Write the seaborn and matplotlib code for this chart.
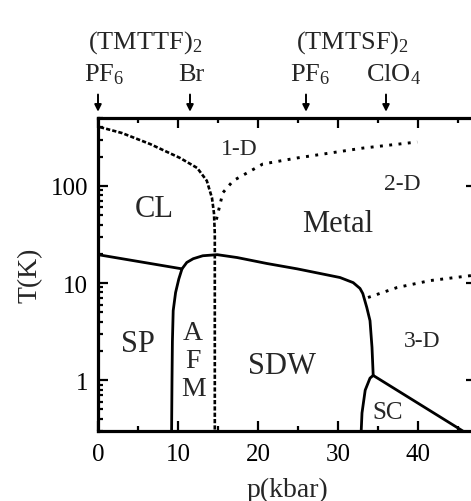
import numpy as np
import pandas as pd
import matplotlib
matplotlib.use("Agg")
import matplotlib.pyplot as plt
import seaborn as sns
from matplotlib.ticker import LogLocator, FixedLocator, NullFormatter

sns.set_style("ticks")
plt.rcParams['font.family'] = ['Liberation Serif', 'DejaVu Serif']
plt.rcParams['mathtext.fontset'] = 'custom'
plt.rcParams['mathtext.rm'] = 'Liberation Serif'
plt.rcParams['mathtext.it'] = 'Liberation Serif:italic'

# ---- data ----
cl_p = [0.25, 3.0, 6.5, 10.25, 12.4, 13.6, 14.25, 14.5, 14.6, 14.6]
cl_T = [403, 350, 270, 194, 153, 113, 75, 52, 32, 0.3]

d1_p = [14.8, 15.6, 16.9, 20.6, 24.9, 29.0, 33.1, 39.9]
d1_T = [45, 85, 113, 168, 194, 218, 245, 283]

sp_p = [0.0, 10.5]
sp_T = [19.6, 14.0]

sdw_p = [9.2, 9.25, 9.3, 9.4, 9.7, 10.1, 10.5, 11.1, 11.9, 13.1, 14.9, 17.4,
         21.1, 24.9, 30.25, 31.9, 32.75, 33.1, 33.6, 34.0, 34.25, 34.4]
sdw_T = [0.3, 1.0, 2.5, 5.2, 8.0, 11.0, 14.0, 16.3, 17.8, 19.1, 19.6, 18.3,
         15.9, 14.0, 11.4, 10.1, 8.8, 7.8, 5.6, 4.1, 2.18, 1.12]

sc_p = [32.9, 33.0, 33.4, 34.0, 34.4, 45.6]
sc_T = [0.3, 0.46, 0.79, 1.05, 1.12, 0.3]

d3_p = [33.75, 37.4, 41.5, 46.5, 48.0]
d3_T = [7.1, 9.0, 10.6, 11.9, 12.3]

regions = ["CL", "1-D", "2-D", "Metal", "SP", "A", "F", "M", "SDW", "3-D", "SC"]
region_p = [7.0, 17.6, 38.1, 30.0, 5.0, 11.9, 11.9, 11.9, 23.0, 40.5, 36.2]
region_T = [59, 245, 107, 41, 2.4, 3.1, 1.6, 0.83, 1.43, 2.57, 0.47]
region_fs = [22, 17, 17, 22, 22, 20, 20, 20, 22, 17, 18]

salt_p = [0.0, 11.5, 26.0, 36.0]
salt_names = [r"PF$_6$", "Br", r"PF$_6$", r"ClO$_4$"]
salt_p_text = [0.7, 11.7, 26.5, 37.0]
family_names = [r"(TMTTF)$_2$", r"(TMTSF)$_2$"]
family_p = [5.9, 31.8]

xticks = [0, 10, 20, 30, 40]
xminor = [5, 15, 25, 35, 45]
yticks = [1, 10, 100]

# ---- figure ----
fig = plt.figure(figsize=(4.71, 5.02), dpi=100)
ax = fig.add_axes([98/471, 70/502, 378/471, 313/502])

solid = dict(color="black", lw=2.0, estimator=None, sort=False, legend=False, ax=ax)
sns.lineplot(x=sp_p, y=sp_T, **solid)
sns.lineplot(x=sdw_p, y=sdw_T, **solid)
sns.lineplot(x=sc_p, y=sc_T, **solid)
sns.lineplot(x=cl_p, y=cl_T, color="black", lw=1.9, estimator=None, sort=False,
             legend=False, ax=ax, linestyle=(0, (1.6, 0.8)))
dotted = dict(color="black", lw=2.1, estimator=None, sort=False, legend=False, ax=ax,
              linestyle=(0, (1.0, 2.2)))
sns.lineplot(x=d1_p, y=d1_T, **dotted)
sns.lineplot(x=d3_p, y=d3_T, **dotted)

ax.set_yscale("log")
ax.set_xlim(0, 47.25)
ax.set_ylim(0.3, 500)

ax.xaxis.set_major_locator(FixedLocator(xticks))
ax.xaxis.set_minor_locator(FixedLocator(xminor))
ax.yaxis.set_major_locator(FixedLocator(yticks))
ax.yaxis.set_minor_locator(LogLocator(base=10, subs=np.arange(2, 10)))
ax.yaxis.set_minor_formatter(NullFormatter())
ax.set_yticklabels(["1", "10", "100"])
ax.set_xticklabels([str(t) for t in xticks])

ax.tick_params(which="both", direction="in", top=True, right=True, width=1.6,
               labelsize=18, colors="black")
ax.tick_params(which="major", length=7, pad=7)
ax.tick_params(axis="x", which="major", pad=9)
ax.tick_params(which="minor", length=3.5)
for s in ax.spines.values():
    s.set_linewidth(2.3)
    s.set_color("black")

ax.set_xlabel("p(kbar)", fontsize=20, labelpad=8)
ax.set_ylabel("T(K)", fontsize=20, labelpad=6)

for name, p, T, fs in zip(regions, region_p, region_T, region_fs):
    ax.text(p, T, name, fontsize=fs, ha="center", va="center")

for p in salt_p:
    ax.annotate("", xy=(p, 1.02), xytext=(p, 1.075),
                xycoords=("data", "axes fraction"), textcoords=("data", "axes fraction"),
                arrowprops=dict(arrowstyle="-|>", color="black", lw=1.4,
                                mutation_scale=10, shrinkA=0, shrinkB=0),
                annotation_clip=False)
for name, p in zip(salt_names, salt_p_text):
    ax.text(p, 1.14, name, fontsize=19, ha="center", va="center",
            transform=ax.get_xaxis_transform())
for name, p in zip(family_names, family_p):
    ax.text(p, 1.245, name, fontsize=19, ha="center", va="center",
            transform=ax.get_xaxis_transform())

fig.savefig("out.png", dpi=100)
